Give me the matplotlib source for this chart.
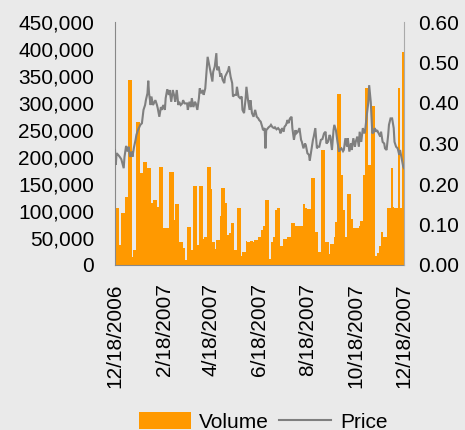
import numpy as np
import pandas as pd
import matplotlib
matplotlib.use("Agg")
import matplotlib.pyplot as plt
import matplotlib.dates as mdates
from matplotlib.patches import Patch
from matplotlib.lines import Line2D
from matplotlib.ticker import FuncFormatter, MultipleLocator

plt.rcParams['font.family'] = ['Liberation Sans', 'DejaVu Sans']

start_date = "2006-12-18"
end_date = "2007-12-18"

# Volume: day offsets from start date and volume (thousands)
vol_days = [0, 5, 8, 13, 16, 21, 23, 26, 31, 35, 40, 45, 48, 53, 56, 61, 68, 74, 76, 81,
            86, 88, 91, 96, 98, 103, 106, 111, 113, 116, 121, 123, 126, 128, 132, 134, 139, 141, 144, 147,
            150, 154, 159, 161, 165, 167, 171, 174, 176, 180, 184, 187, 190, 194, 197, 199, 202, 205, 209, 212,
            217, 222, 227, 230, 237, 240, 243, 247, 252, 257, 260, 265, 267, 270, 272, 276, 278, 281, 286, 288,
            291, 293, 298, 301, 308, 310, 313, 316, 320, 323, 328, 331, 333, 336, 338, 341, 343, 348, 351, 353,
            357, 360, 362]
vol_k = [105, 37, 97, 126, 343, 15, 28, 265, 171, 191, 179, 115, 120, 108, 182, 68, 172, 83, 113, 43,
         31, 9, 71, 27, 146, 37, 146, 48, 52, 182, 141, 43, 29, 46, 90, 142, 114, 56, 60, 77,
         28, 105, 17, 24, 45, 43, 44, 42, 46, 52, 64, 72, 120, 12, 43, 52, 101, 105, 35, 49,
         52, 77, 72, 72, 113, 105, 103, 162, 61, 25, 213, 43, 43, 20, 38, 52, 79, 316, 167, 102,
         52, 131, 86, 68, 73, 81, 167, 327, 185, 295, 17, 22, 36, 61, 51, 52, 105, 180, 107, 105,
         327, 105, 394]

# Price: day offsets and price
price_days = [0, 1, 2, 4, 6, 8, 11, 12, 14, 16, 17, 19, 21, 22, 24, 26, 27, 29, 32, 34, 36, 38, 39, 41, 42, 43,
              45, 46, 48, 49, 51, 53, 54, 56, 58, 59, 61, 63, 64, 66, 68, 69, 71, 73, 75, 76, 78, 80, 81, 83,
              85, 86, 88, 91, 92, 94, 96, 97, 99, 101, 102, 104, 106, 107, 109, 111, 112, 114, 116, 117, 119,
              121, 123, 124, 126, 128, 129, 131, 133, 134, 136, 138, 139, 141, 143, 144, 146, 148, 149, 151,
              153, 154, 156, 158, 160, 161, 163, 165, 166, 168, 170, 171, 173, 175, 177, 179, 181, 182, 184,
              186, 187, 189, 190, 191, 192, 194, 196, 197, 199, 201, 202, 204, 206, 208, 209, 211, 213, 214,
              216, 218, 219, 221, 223, 224, 226, 228, 229, 231, 233, 235, 236, 238, 240, 241, 243, 245, 246,
              248, 250, 251, 253, 255, 256, 258, 260, 262, 264, 266, 267, 269, 271, 272, 274, 276, 277, 279,
              281, 283, 284, 286, 288, 289, 291, 293, 294, 296, 298, 299, 301, 303, 304, 306, 308, 309, 311,
              313, 315, 316, 318, 320, 321, 323, 325, 327, 328, 330, 331, 333, 335, 336, 338, 340, 341, 343,
              345, 346, 348, 350, 352, 353, 355, 357, 359, 360, 362, 364, 365]
price = [0.284, 0.247, 0.276, 0.272, 0.267, 0.261, 0.239, 0.267, 0.294, 0.280, 0.292, 0.267, 0.280, 0.267,
         0.291, 0.309, 0.321, 0.333, 0.346, 0.350, 0.383, 0.395, 0.407, 0.424, 0.455, 0.424,
         0.395, 0.416, 0.395, 0.399, 0.407, 0.395, 0.387, 0.366, 0.390, 0.383, 0.395, 0.383, 0.412, 0.434,
         0.420, 0.432, 0.403, 0.432, 0.416, 0.403, 0.432, 0.395, 0.403, 0.395,
         0.399, 0.407, 0.399, 0.399, 0.383, 0.403, 0.390, 0.412, 0.390, 0.403, 0.399, 0.383, 0.412, 0.436,
         0.424, 0.432, 0.420, 0.436, 0.490, 0.514, 0.494,
         0.473, 0.453, 0.477, 0.490, 0.523, 0.481, 0.490, 0.465, 0.473, 0.457, 0.449, 0.465, 0.473, 0.481,
         0.490, 0.465, 0.449, 0.416, 0.420,
         0.420, 0.440, 0.416, 0.412, 0.416, 0.383, 0.375, 0.412, 0.440, 0.407, 0.383, 0.407, 0.375, 0.366,
         0.383, 0.366, 0.362, 0.358, 0.354,
         0.341, 0.333, 0.338, 0.288, 0.333, 0.335, 0.340, 0.343, 0.346, 0.340, 0.338, 0.340, 0.335, 0.338,
         0.333, 0.325, 0.338, 0.329, 0.341,
         0.346, 0.358, 0.350, 0.362, 0.366, 0.338, 0.309, 0.333, 0.325, 0.329, 0.338, 0.309, 0.304, 0.288,
         0.300, 0.296, 0.276, 0.272, 0.258,
         0.284, 0.309, 0.317, 0.338, 0.288, 0.292, 0.292, 0.309, 0.311, 0.325, 0.329, 0.300, 0.304, 0.321,
         0.317, 0.284, 0.333, 0.346, 0.333,
         0.304, 0.280, 0.284, 0.288, 0.281, 0.284, 0.313, 0.292, 0.313, 0.280, 0.300, 0.284, 0.313, 0.292,
         0.304, 0.317, 0.292, 0.329, 0.304,
         0.338, 0.325, 0.333, 0.370, 0.403, 0.444, 0.403, 0.325, 0.329, 0.338, 0.329, 0.333, 0.325, 0.317,
         0.329, 0.304, 0.300, 0.288, 0.284,
         0.321, 0.346, 0.362, 0.362, 0.338, 0.304, 0.292, 0.288, 0.272, 0.284, 0.263, 0.243, 0.239]

tick_labels = ["12/18/2006", "2/18/2007", "4/18/2007", "6/18/2007", "8/18/2007", "10/18/2007", "12/18/2007"]

bg = "#eaeaea"
orange = "#ff9900"
gray_line = "#7f7f7f"

start = pd.Timestamp(start_date)
end = pd.Timestamp(end_date)
vol_dates = start + pd.to_timedelta(vol_days, unit="D")
vol_x = mdates.date2num(vol_dates.to_pydatetime())
edges = np.append(vol_x, mdates.date2num(end.to_pydatetime()))
widths = np.diff(edges)
volume = np.array(vol_k) * 1000

price_x = mdates.date2num((start + pd.to_timedelta(price_days, unit="D")).to_pydatetime())

fig = plt.figure(figsize=(4.65, 4.30), dpi=100, facecolor=bg)
ax = fig.add_axes([115 / 465, 1 - 265 / 430, (404 - 115) / 465, (265 - 22) / 430])
ax.set_facecolor(bg)
ax.bar(vol_x, volume, width=widths, align="edge", color=orange, edgecolor="none", linewidth=0)
ax.set_ylim(0, 450000)
ax.yaxis.set_major_locator(MultipleLocator(50000))
ax.yaxis.set_major_formatter(FuncFormatter(lambda v, p: f"{int(v):,}"))
ax.set_xlim(mdates.date2num(start.to_pydatetime()), mdates.date2num(end.to_pydatetime()))

tick_pos = [mdates.date2num(pd.Timestamp(t).to_pydatetime()) for t in tick_labels]
ax.set_xticks(tick_pos)
ax.set_xticklabels(tick_labels, rotation=90, fontsize=15)
ax.tick_params(axis="x", length=0, pad=13)
ax.tick_params(axis="y", length=0, pad=15, labelsize=15)

ax2 = ax.twinx()
ax2.plot(price_x, price, color=gray_line, linewidth=1.5, solid_joinstyle="miter")
ax2.set_ylim(0, 0.60)
ax2.yaxis.set_major_locator(MultipleLocator(0.1))
ax2.yaxis.set_major_formatter(FuncFormatter(lambda v, p: f"{v:.2f}"))
ax2.tick_params(axis="y", length=0, pad=10, labelsize=15)

for a in (ax, ax2):
    a.spines["top"].set_visible(False)
    a.spines["left"].set_color("#888888")
    a.spines["bottom"].set_color("#888888")
    a.spines["right"].set_color("#aaaaaa")
ax2.spines["left"].set_visible(False)
ax2.spines["bottom"].set_visible(False)
ax.spines["right"].set_visible(False)

handles = [Patch(facecolor=orange, edgecolor="none"), Line2D([0], [0], color=gray_line, linewidth=1.5)]
fig.legend(handles, ["Volume", "Price"], loc="center", bbox_to_anchor=(263 / 465, 1 - 422 / 430),
           ncol=2, frameon=False, fontsize=15, handlelength=2.5, handletextpad=0.4, columnspacing=0.5,
           handleheight=0.9)

fig.savefig("out.png", dpi=100, facecolor=bg)
